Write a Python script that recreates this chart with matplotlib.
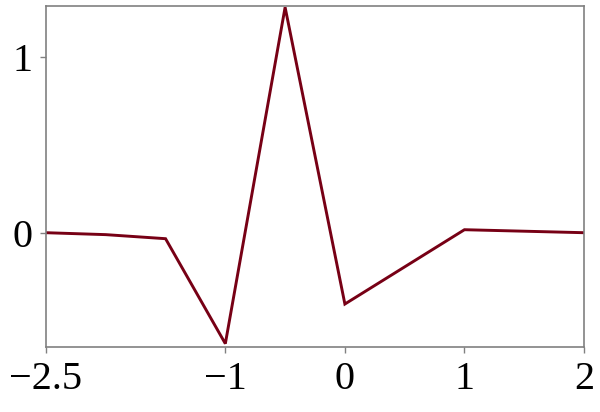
import matplotlib
matplotlib.use("Agg")
import matplotlib.pyplot as plt

# sample points of the curve
x_vals = [-2.5, -2.0, -1.5, -1.0, -0.5, 0.0, 1.0, 2.0]
y_vals = [0.0, -0.011, -0.034, -0.63, 1.28, -0.405, 0.017, 0.0]

x_ticks = [-2.5, -1, 0, 1, 2]
x_tick_labels = ["\u22122.5", "\u22121", "0", "1", "2"]
y_ticks = [0, 1]
y_tick_labels = ["0", "1"]

line_color = "#770015"
axis_color = "#808080"

fig = plt.figure(figsize=(6, 4.12), dpi=100)
ax = fig.add_axes([46 / 600, 1 - 347 / 412, (584 - 46) / 600, (347 - 5.7) / 412])

ax.plot(x_vals, y_vals, color=line_color, linewidth=2.1, solid_joinstyle="miter")

ax.set_xlim(-2.5, 2.0)
ax.set_ylim(-0.649, 1.289)

ax.set_xticks(x_ticks)
ax.set_xticklabels(x_tick_labels)
ax.set_yticks(y_ticks)
ax.set_yticklabels(y_tick_labels)

for spine in ax.spines.values():
    spine.set_color(axis_color)
    spine.set_linewidth(1.2)

ax.tick_params(axis="both", colors=axis_color, length=4, width=1.0,
               labelsize=29, labelcolor="black", pad=6)
for lbl in ax.get_xticklabels() + ax.get_yticklabels():
    lbl.set_fontfamily("Liberation Serif")

fig.savefig("out.png", dpi=100)
